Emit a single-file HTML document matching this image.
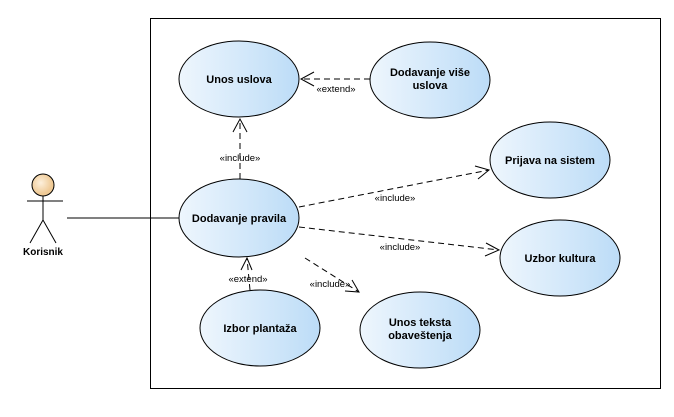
<!DOCTYPE html><html><head><meta charset="utf-8"><style>body{margin:0;background:#fff}text{font-family:"Liberation Sans",sans-serif}</style></head><body>
<svg width="674" height="412" xmlns="http://www.w3.org/2000/svg">
<defs><linearGradient id="g" x1="0" x2="1"><stop offset="0" stop-color="#eef6fd"/><stop offset="1" stop-color="#bcdcf7"/></linearGradient>
<radialGradient id="h" cx="0.4" cy="0.4"><stop offset="0" stop-color="#fdf0dc"/><stop offset="1" stop-color="#efca96"/></radialGradient></defs>
<rect x="150.5" y="18.5" width="510" height="370" fill="#fff" stroke="#000"/>
<g fill="url(#g)" stroke="#000">
<ellipse cx="239" cy="79" rx="60" ry="38"/>
<ellipse cx="430" cy="80" rx="60" ry="38"/>
<ellipse cx="239" cy="218" rx="60" ry="39"/>
<ellipse cx="550" cy="160" rx="60" ry="38"/>
<ellipse cx="560" cy="258" rx="60" ry="38"/>
<ellipse cx="260" cy="328" rx="60" ry="38"/>
<ellipse cx="420" cy="330" rx="60" ry="38"/>
</g>
<g font-size="11" font-weight="bold" text-anchor="middle" fill="#000">
<text x="239" y="83">Unos uslova</text>
<text x="430" y="76">Dodavanje više</text><text x="430" y="89">uslova</text>
<text x="239" y="222">Dodavanje pravila</text>
<text x="550" y="164">Prijava na sistem</text>
<text x="560" y="262">Uzbor kultura</text>
<text x="260" y="332">Izbor plantaža</text>
<text x="420" y="326">Unos teksta</text><text x="420" y="339">obaveštenja</text>
<text x="43" y="255" font-size="10">Korisnik</text>
</g>
<g stroke="#000" fill="none" stroke-dasharray="6,4">
<line x1="370" y1="79" x2="301" y2="79"/>
<line x1="240" y1="179" x2="240" y2="119"/>
<line x1="299" y1="207" x2="489" y2="170"/>
<line x1="299" y1="227" x2="499" y2="250"/>
<line x1="250" y1="290" x2="247" y2="258"/>
<line x1="305" y1="258" x2="359" y2="292"/>
</g>
<g stroke="#000" fill="none">
<polyline points="314,72 301,79 314,86"/>
<polyline points="233,132 240,119 247,132"/>
<polyline points="475,166 489,170 478,179"/>
<polyline points="486,243 499,250 485,256"/>
<polyline points="241,270 247,258 252,270"/>
<polyline points="345,291 359,292 352,280"/>
<line x1="67" y1="218" x2="179" y2="218"/>
<circle cx="43" cy="185" r="11" fill="url(#h)"/>
<line x1="43" y1="196" x2="43" y2="220"/><line x1="27" y1="201" x2="63" y2="201"/>
<polyline points="30,243 43,220 56,243"/>
</g>
<g font-size="9.5" text-anchor="middle" fill="#000">
<text x="336" y="92">«extend»</text>
<text x="240" y="161">«include»</text>
<text x="395" y="201">«include»</text>
<text x="400" y="250">«include»</text>
<text x="248" y="282">«extend»</text>
<text x="330" y="287">«include»</text>
</g>
</svg></body></html>
